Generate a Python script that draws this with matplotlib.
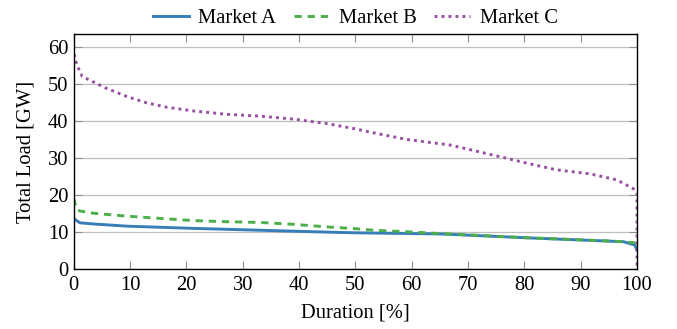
import matplotlib
matplotlib.use("Agg")
import matplotlib.pyplot as plt

plt.rcParams['font.family'] = ['Liberation Serif', 'DejaVu Serif']

# load duration curves, duration [%] vs load [GW]
dur_a = [0, 0.2, 1.1, 3.4, 9.4, 21.2, 33, 47.2, 50.2, 60, 65, 82.8, 97.6, 99.6, 100]
load_a = [13.8, 13.4, 12.5, 12.2, 11.6, 11.0, 10.5, 9.9, 9.8, 9.6, 9.5, 8.3, 7.4, 6.5, 5.1]

dur_b = [0, 0.5, 1.1, 3.4, 9.4, 15.3, 21.2, 27.1, 33, 39, 44.9, 50.2, 53.2, 59.1, 65,
         70.9, 79.8, 88.6, 97.6, 99.6, 100]
load_b = [19.1, 16.1, 15.7, 15.1, 14.3, 13.7, 13.1, 12.8, 12.6, 12.1, 11.4, 10.9, 10.5,
          10.1, 9.6, 9.2, 8.5, 8.0, 7.4, 7.1, 6.8]

dur_c = [0, 0.2, 0.5, 1.5, 3.4, 5.8, 9.4, 12.9, 16.5, 21.2, 27.1, 33, 39, 44.9, 50.2,
         53.2, 59.1, 66.8, 72.7, 76.9, 81, 85.7, 91.7, 96.4, 99.6, 100, 100]
load_c = [58.0, 57.4, 55.3, 52.0, 50.6, 48.8, 46.6, 44.9, 43.7, 42.7, 41.8, 41.3, 40.5,
          39.3, 37.8, 36.8, 35.0, 33.5, 31.4, 29.9, 28.4, 26.8, 25.7, 24.1, 21.5, 20.5, 0]

FS = 14.8

fig = plt.figure(figsize=(6.77, 3.29), dpi=100)
ax = fig.add_axes([0.109, 0.182, 0.832, 0.715])

ax.plot(dur_a, load_a, color='#377eb8', lw=2.1, ls='-', label='Market A')
ax.plot(dur_b, load_b, color='#4daf4a', lw=2.1, ls=(0, (2.5, 2.0)), label='Market B')
ax.plot(dur_c, load_c, color='#984ea3', lw=2.1, ls=(0, (1, 1.4)), label='Market C')

ax.set_xlim(0, 100)
ax.set_ylim(0, 63.5)
ax.set_xticks(range(0, 101, 10))
ax.set_yticks(range(0, 61, 10))
ax.yaxis.grid(True, color='#bfbfbf', lw=0.9)
ax.set_axisbelow(True)
ax.tick_params(direction='in', top=True, right=True, length=6, width=0.8,
               color='#909090', labelsize=FS)
ax.tick_params(axis='x', pad=5)
ax.tick_params(axis='y', pad=4)
for s in ax.spines.values():
    s.set_linewidth(1.0)

ax.set_xlabel('Duration [%]', fontsize=FS, labelpad=6)
ax.set_ylabel('Total Load [GW]', fontsize=FS, labelpad=9)

ax.legend(loc='center', bbox_to_anchor=(0.5, 1.065), ncol=3, frameon=False,
          fontsize=FS, handlelength=1.75, columnspacing=0.85, handletextpad=0.45,
          borderaxespad=0, borderpad=0)

fig.savefig('out.png', dpi=100)
